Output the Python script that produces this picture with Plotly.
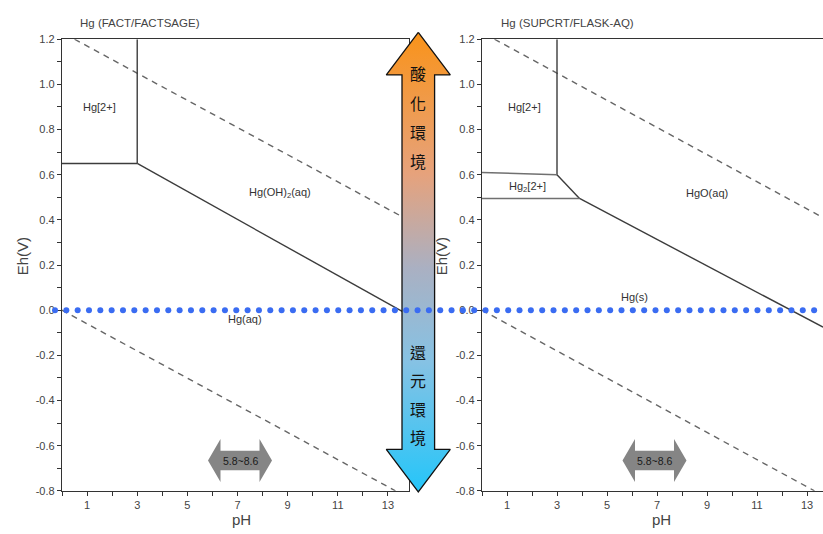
import plotly.graph_objects as go

# ---------------- data ----------------
# Left diagram: Hg (FACT/FACTSAGE)
L_water_ox_ph = [0.5, 13.8]
L_water_ox_eh = [1.20, 0.40]
L_water_red_ph = [0.0, 13.3]
L_water_red_eh = [0.0, -0.80]
L_hg2_vert_ph = [3.0, 3.0]
L_hg2_vert_eh = [1.20, 0.65]
L_hg2_horz_ph = [0.0, 3.0]
L_hg2_horz_eh = [0.65, 0.65]
L_hgoh2_hg_ph = [3.0, 13.8]
L_hgoh2_hg_eh = [0.65, -0.02]
L_labels = ["Hg[2+]", "Hg(OH)<sub>2</sub>(aq)", "Hg(aq)"]
L_label_ph = [1.5, 8.7, 7.3]
L_label_eh = [0.90, 0.52, -0.04]

# Right diagram: Hg (SUPCRT/FLASK-AQ)
R_water_ox_ph = [0.5, 13.64]
R_water_ox_eh = [1.20, 0.41]
R_water_red_ph = [0.0, 13.3]
R_water_red_eh = [0.0, -0.80]
R_hg2_vert_ph = [3.0, 3.0]
R_hg2_vert_eh = [1.20, 0.60]
R_hg2_horz_ph = [0.0, 3.0]
R_hg2_horz_eh = [0.61, 0.60]
R_hg2_hg22_ph = [3.0, 3.9]
R_hg2_hg22_eh = [0.60, 0.495]
R_hg22_horz_ph = [0.0, 3.9]
R_hg22_horz_eh = [0.495, 0.495]
R_hgo_hg_ph = [3.9, 13.64]
R_hgo_hg_eh = [0.495, -0.075]
R_labels = ["Hg[2+]", "Hg<sub>2</sub>[2+]", "HgO(aq)", "Hg(s)"]
R_label_ph = [1.7, 1.8, 9.0, 6.1]
R_label_eh = [0.90, 0.545, 0.52, 0.06]

titles = ["Hg (FACT/FACTSAGE)", "Hg (SUPCRT/FLASK-AQ)"]
ph_range_text = "5.8~8.6"
ox_chars = ["酸", "化", "環", "境"]
red_chars = ["還", "元", "環", "境"]

y_ticks = [1.2, 1.0, 0.8, 0.6, 0.4, 0.2, 0.0, -0.2, -0.4, -0.6, -0.8]
x_ticks = [1, 3, 5, 7, 9, 11, 13]

# ---------------- layout constants (pixels) ----------------
W, H = 823, 534
TOP, BOT = 34, 496
L_LEFT, L_RIGHT = 62, 409
R_LEFT, R_RIGHT = 482, 823
Y_MIN, Y_MAX = -0.8, 1.2

def y_px(eh):
    return TOP + (Y_MAX - eh) / (Y_MAX - Y_MIN) * (BOT - TOP)

BND = "#3c3c3c"
DSH = "#666666"
FONT = "Liberation Sans, Arial, sans-serif"

fig = go.Figure()

def add_line(x, y, xa, ya, dash=None, color=BND):
    fig.add_trace(go.Scatter(x=x, y=y, mode="lines", xaxis=xa, yaxis=ya,
                             line=dict(color=color, width=1.4, dash=dash),
                             hoverinfo="skip", showlegend=False))

DASH = "6px,5px"
# left
add_line(L_water_ox_ph, L_water_ox_eh, "x", "y", DASH, DSH)
add_line(L_water_red_ph, L_water_red_eh, "x", "y", DASH, DSH)
add_line(L_hg2_vert_ph, L_hg2_vert_eh, "x", "y")
add_line(L_hg2_horz_ph, L_hg2_horz_eh, "x", "y")
add_line(L_hgoh2_hg_ph, L_hgoh2_hg_eh, "x", "y")
# right
add_line(R_water_ox_ph, R_water_ox_eh, "x2", "y2", DASH, DSH)
add_line(R_water_red_ph, R_water_red_eh, "x2", "y2", DASH, DSH)
add_line(R_hg2_vert_ph, R_hg2_vert_eh, "x2", "y2")
add_line(R_hg2_horz_ph, R_hg2_horz_eh, "x2", "y2", color="#707070")
add_line(R_hg2_hg22_ph, R_hg2_hg22_eh, "x2", "y2")
add_line(R_hg22_horz_ph, R_hg22_horz_eh, "x2", "y2", color="#707070")
add_line(R_hgo_hg_ph, R_hgo_hg_eh, "x2", "y2")

# ---------------- overlay decorations (pixel coords) ----------------
# small grey double arrows
def grey_arrow(cx, cy):
    hw, head, hh, sh = 32, 12.5, 22, 10
    xs = [cx - hw, cx - hw + head, cx - hw + head, cx + hw - head, cx + hw - head, cx + hw,
          cx + hw - head, cx + hw - head, cx - hw + head, cx - hw + head, cx - hw]
    ys = [cy, cy - hh, cy - sh, cy - sh, cy - hh, cy,
          cy + hh, cy + sh, cy + sh, cy + hh, cy]
    fig.add_trace(go.Scatter(x=xs, y=ys, mode="lines", fill="toself", xaxis="x3", yaxis="y3",
                             fillcolor="#858585", line=dict(color="#858585", width=0),
                             hoverinfo="skip", showlegend=False))
    fig.add_annotation(x=cx, y=cy, xref="x3", yref="y3", text=ph_range_text, showarrow=False,
                       xanchor="center", yanchor="middle",
                       font=dict(family=FONT, size=10.5, color="#1a1a1a"))

grey_arrow(240, 465)
grey_arrow(654.5, 465)

# big vertical gradient double arrow
cx, shw, hhw = 418.3, 16.3, 32
tip_t, base_t, base_b, tip_b = 27, 70.5, 453.5, 497
ax = [cx, cx + hhw, cx + shw, cx + shw, cx + hhw, cx, cx - hhw, cx - shw, cx - shw, cx - hhw, cx]
ay = [tip_t, base_t, base_t, base_b, base_b, tip_b, base_b, base_b, base_t, base_t, tip_t]
fig.add_trace(go.Scatter(x=ax, y=ay, mode="lines", fill="toself", xaxis="x3", yaxis="y3",
                         line=dict(color="#111111", width=1.3),
                         fillgradient=dict(type="vertical", start=tip_t, stop=tip_b,
                                           colorscale=[[0, "#f9931a"], [0.3, "#e6a27c"],
                                                       [0.5, "#aab0c2"], [0.7, "#86c2e4"],
                                                       [1, "#1cc6fb"]]),
                         hoverinfo="skip", showlegend=False))

# blue dotted Eh = 0 line
y0 = y_px(0.0)
dots_x = [55 + 11.33 * i for i in range(68)]
fig.add_trace(go.Scatter(x=dots_x, y=[y0] * len(dots_x), mode="markers", xaxis="x3", yaxis="y3",
                         marker=dict(color="#3a6cf2", size=6, line=dict(width=0)),
                         hoverinfo="skip", showlegend=False))

for ch, yy in zip(ox_chars, [69, 99, 129, 159]):
    fig.add_annotation(x=cx, y=yy, xref="x3", yref="y3", text=ch, showarrow=False,
                       xanchor="center", yanchor="middle",
                       font=dict(family="Noto Sans CJK TC", size=16, color="#111111"))
for ch, yy in zip(red_chars, [354, 383, 412, 441]):
    fig.add_annotation(x=cx, y=yy, xref="x3", yref="y3", text=ch, showarrow=False,
                       xanchor="center", yanchor="middle",
                       font=dict(family="Noto Sans CJK TC", size=16, color="#111111"))

# region labels
for t, px_, ey in zip(L_labels, L_label_ph, L_label_eh):
    fig.add_annotation(x=px_, y=ey, xref="x", yref="y", text=t, showarrow=False,
                       xanchor="center", yanchor="middle",
                       font=dict(family=FONT, size=11, color="#333333"))
for t, px_, ey in zip(R_labels, R_label_ph, R_label_eh):
    fig.add_annotation(x=px_, y=ey, xref="x2", yref="y2", text=t, showarrow=False,
                       xanchor="center", yanchor="middle",
                       font=dict(family=FONT, size=11, color="#333333"))

# titles and axis titles
fig.add_annotation(x=78 / W, y=1 - 17 / H, xref="paper", yref="paper", text=titles[0],
                   showarrow=False, xanchor="left", yanchor="middle",
                   font=dict(family=FONT, size=11.5, color="#444444"))
fig.add_annotation(x=499 / W, y=1 - 17 / H, xref="paper", yref="paper", text=titles[1],
                   showarrow=False, xanchor="left", yanchor="middle",
                   font=dict(family=FONT, size=11.5, color="#444444"))
for xx in [22, 441]:
    fig.add_annotation(x=xx / W, y=1 - 256 / H, xref="paper", yref="paper", text="Eh(V)",
                       showarrow=False, textangle=-90, xanchor="center", yanchor="middle",
                       font=dict(family=FONT, size=15, color="#444444"))
for xx in [241, 661]:
    fig.add_annotation(x=xx / W, y=1 - 525 / H, xref="paper", yref="paper", text="pH",
                       showarrow=False, xanchor="center", yanchor="middle",
                       font=dict(family=FONT, size=15, color="#444444"))

axis_common = dict(showgrid=False, zeroline=False, showline=True, linecolor="#333333",
                   linewidth=1.3, ticks="outside", ticklen=4, tickcolor="#333333",
                   tickfont=dict(family=FONT, size=11, color="#444444"))
xtick = dict(tickmode="array", tickvals=x_ticks, ticktext=[str(v) for v in x_ticks],
             minor=dict(dtick=1, tick0=0, ticks="outside", ticklen=4, tickcolor="#333333"))
ytick = dict(tickmode="array", tickvals=y_ticks, ticktext=[f"{v:.1f}" for v in y_ticks],
             minor=dict(dtick=0.1, tick0=0, ticks="outside", ticklen=4, tickcolor="#333333"))

ydom = [1 - BOT / H, 1 - TOP / H]
fig.update_layout(
    autosize=True, margin=dict(l=0, r=0, t=0, b=0),
    paper_bgcolor="white", plot_bgcolor="rgba(0,0,0,0)", showlegend=False,
    xaxis=dict(domain=[L_LEFT / W, L_RIGHT / W], range=[0, 13.84], mirror=True,
               anchor="y", **axis_common, **xtick),
    yaxis=dict(domain=ydom, range=[Y_MIN, Y_MAX], mirror=True, anchor="x",
               **axis_common, **ytick),
    xaxis2=dict(domain=[R_LEFT / W, R_RIGHT / W], range=[0, 13.64], mirror=True,
                anchor="y2", **axis_common, **xtick),
    yaxis2=dict(domain=ydom, range=[Y_MIN, Y_MAX], mirror=False, anchor="x2",
                **axis_common, **ytick),
    xaxis3=dict(domain=[0, 1], range=[0, W], visible=False, anchor="y3", fixedrange=True),
    yaxis3=dict(domain=[0, 1], range=[H, 0], visible=False, anchor="x3", fixedrange=True),
)

fig.write_html(
    "out.html",
    default_width="100vw", default_height="100vh",
    config={"displayModeBar": False, "responsive": True},
    post_script=("document.documentElement.style.margin='0';"
                 "document.body.style.margin='0';"
                 "document.documentElement.style.overflow='hidden';"
                 "document.body.style.overflow='hidden';"
                 "Plotly.Plots.resize(document.getElementById('{plot_id}'));"),
)
